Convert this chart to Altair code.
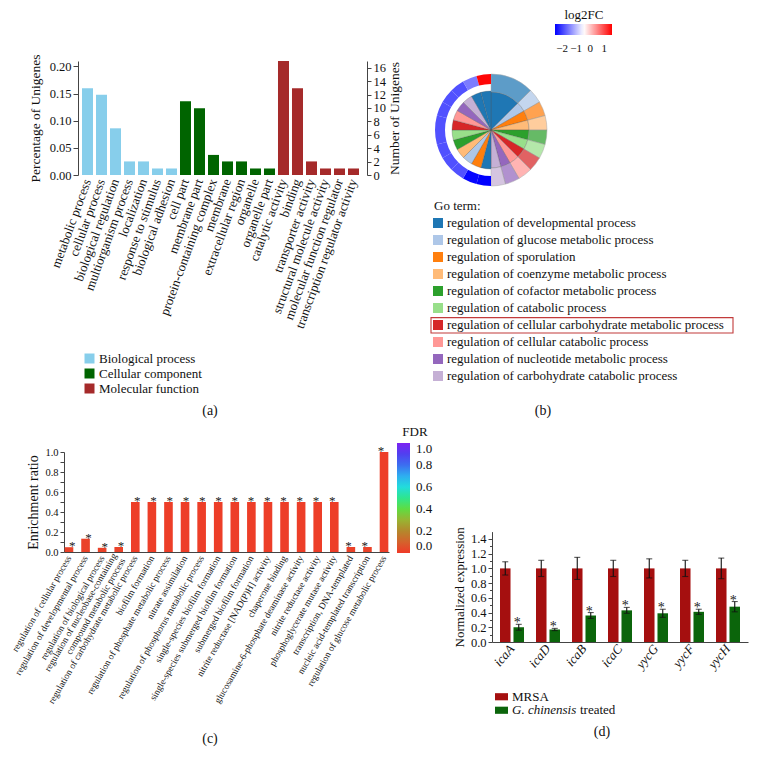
import altair as alt
import numpy as np
import pandas as pd

FONT = "Liberation Serif"
W, H = 749, 743

# ---------------- Panel (a) ----------------
a_terms = ["metabolic process", "cellular process", "biological regulation",
           "multiorganism process", "localization", "response to stimulus",
           "biological adhesion", "cell part", "membrane part",
           "protein-containing complex", "membrane", "extracellular region",
           "organelle", "organelle part", "catalytic activity", "binding",
           "transporter activity", "structural molecule activity",
           "molecular function regulator", "transcription regulator activity"]
a_groups = ["Biological process", "Cellular component", "Molecular function"]
a_group_of_term = [a_groups[0]] * 7 + [a_groups[1]] * 7 + [a_groups[2]] * 6
a_counts = [13, 12, 7, 2, 2, 1, 1, 11, 10, 3, 2, 2, 1, 1, 17, 13, 2, 1, 1, 1]
a_percent = [0.160, 0.148, 0.086, 0.025, 0.025, 0.012, 0.012, 0.136, 0.123,
             0.037, 0.025, 0.025, 0.012, 0.012, 0.210, 0.160, 0.025, 0.012,
             0.012, 0.012]
a_colors = ["#87ceeb", "#006400", "#a52a2a"]
a_left_ticks = [0, 0.05, 0.10, 0.15, 0.20]
a_right_ticks = [0, 2, 4, 6, 8, 10, 12, 14, 16]

# ---------------- Panel (b) ----------------
b_terms = ["regulation of developmental process",
           "regulation of glucose metabolic process",
           "regulation of sporulation",
           "regulation of coenzyme metabolic process",
           "regulation of cofactor metabolic process",
           "regulation of catabolic process",
           "regulation of cellular carbohydrate metabolic process",
           "regulation of cellular catabolic process",
           "regulation of nucleotide metabolic process",
           "regulation of carbohydrate catabolic process"]
b_colors = ["#1f77b4", "#aec7e8", "#ff7f0e", "#ffbb78", "#2ca02c",
            "#98df8a", "#d62728", "#ff9896", "#9467bd", "#c5b0d5"]
b_term_links = [3, 1, 1, 1, 1, 1, 1, 1, 1, 1]
b_genes = ["g1", "g2", "g3", "g4", "g5", "g6", "g7", "g8", "g9", "g10", "g11", "g12"]
b_gene_term = [b_terms[0], b_terms[2], b_terms[1], b_terms[3], b_terms[4],
               b_terms[5], b_terms[6], b_terms[7], b_terms[8], b_terms[9],
               b_terms[0], b_terms[0]]
b_gene_log2fc = [-2.5, -2.45, -1.85, -1.85, -1.85, -1.85, -1.85, -1.85, -1.85,
                 -1.85, -1.5, 1.5]
b_fc_stops = [-2.5, -0.45, 1.55]
b_fc_colors = ["#0000ff", "#ffffff", "#ff0000"]
b_fc_ticks = [-2, -1, 0, 1]
b_legend_title = "Go term:"
b_highlight = "regulation of cellular carbohydrate metabolic process"

# ---------------- Panel (c) ----------------
c_terms = ["regulation of cellular process",
           "regulation of developmental process",
           "regulation of biological process",
           "regulation of nucleobase-containing|compound metabolic process",
           "regulation of carbohydrate metabolic process",
           "biofilm formation",
           "regulation of phosphate metabolic process",
           "nitrate assimilation",
           "regulation of phosphorus metabolic process",
           "single-species biofilm formation",
           "single-species submerged biofilm formation",
           "submerged biofilm formation",
           "nitrite reductase [NAD(P)H] activity",
           "chaperone binding",
           "glucosamine-6-phosphate deaminase activity",
           "nitrite reductase activity",
           "phosphoglycerate mutase activity",
           "transcription, DNA-templated",
           "nucleic acid-templated transcription",
           "regulation of glucose metabolic process"]
c_ratio = [0.048, 0.133, 0.042, 0.05, 0.5, 0.5, 0.5, 0.5, 0.5, 0.5, 0.5,
           0.5, 0.5, 0.5, 0.5, 0.5, 0.5, 0.05, 0.05, 1.0]
c_fdr = [0.02, 0.02, 0.02, 0.02, 0.01, 0.01, 0.01, 0.01, 0.01, 0.01, 0.01,
         0.01, 0.01, 0.01, 0.01, 0.01, 0.01, 0.02, 0.02, 0.01]
c_fdr_stops = [0.0, 0.1, 0.2, 0.3, 0.4, 0.5, 0.6, 0.7, 0.8, 0.9, 1.0]
c_fdr_colors = ["#f03a28", "#d4622c", "#b4882c", "#98b432", "#5fdc42", "#2ee68e",
                "#22dcdc", "#2eaef0", "#3c6ef0", "#5040f0", "#7c22f2"]
c_fdr_ticks = [0.0, 0.2, 0.4, 0.6, 0.8, 1.0]
c_y_ticks = [0.0, 0.1, 0.2, 0.3, 0.4, 0.5, 0.6, 0.7, 0.8, 0.9, 1.0]

# ---------------- Panel (d) ----------------
d_genes = ["icaA", "icaD", "icaB", "icaC", "yycG", "yycF", "yycH"]
d_groups = ["MRSA", "G. chinensis treated"]
d_mrsa = [1.0, 1.0, 1.0, 1.0, 1.0, 1.0, 1.0]
d_mrsa_err = [0.09, 0.11, 0.15, 0.11, 0.13, 0.11, 0.14]
d_treated = [0.20, 0.17, 0.36, 0.43, 0.39, 0.41, 0.48]
d_treated_err = [0.04, 0.015, 0.04, 0.04, 0.055, 0.035, 0.07]
d_colors = ["#a50f0f", "#0b650b"]
d_ticks = [0.0, 0.2, 0.4, 0.6, 0.8, 1.0, 1.2, 1.4]
d_minor_ticks = [0.1, 0.3, 0.5, 0.7, 0.9, 1.1, 1.3]
d_legend_italic = ["", "G. chinensis"]
d_legend_plain = ["MRSA", "treated"]

captions = ["(a)", "(b)", "(c)", "(d)"]

# ================= data frames =================
dfA = pd.DataFrame({"term": a_terms, "group": a_group_of_term,
                    "count": a_counts, "pct": a_percent})

unit = 180.0 / sum(b_term_links)
t_end = np.cumsum(b_term_links) * unit
dfBt = pd.DataFrame({"term": b_terms, "start": t_end - np.array(b_term_links) * unit,
                     "end": t_end})
g_start = 180.0 + unit * np.arange(len(b_genes))
dfBg = pd.DataFrame({"gene": b_genes, "term": b_gene_term, "log2fc": b_gene_log2fc,
                     "start": g_start, "end": g_start + unit})
b_rows = [b_legend_title] + b_terms
dfBl = pd.DataFrame({"term": b_terms})
dfBtitle = pd.DataFrame({"term": [b_legend_title]})
dfBhi = pd.DataFrame({"term": [b_highlight]})

dfC = pd.DataFrame({"term": c_terms, "ratio": c_ratio, "fdr": c_fdr})

dfD = pd.DataFrame({"gene": d_genes * 2,
                    "group": [d_groups[0]] * len(d_genes) + [d_groups[1]] * len(d_genes),
                    "value": d_mrsa + d_treated,
                    "err": d_mrsa_err + d_treated_err})
dfDl = pd.DataFrame({"group": d_groups, "italic": d_legend_italic, "plain": d_legend_plain})

# ================= panel (a) =================
xA_scale = alt.Scale(domain=a_terms, range=[70, 355], paddingInner=0.214, paddingOuter=0.286)
a_bars = alt.Chart(dfA).mark_bar().encode(
    x=alt.X("term:N", scale=xA_scale,
            axis=alt.Axis(orient="bottom", offset=-576, labelAngle=-70, labelAlign="right",
                          labelBaseline="middle", labelFontSize=13, labelPadding=4,
                          ticks=False, domain=False, title=None, labelLimit=300)),
    y=alt.Y("pct:Q", scale=alt.Scale(domain=[0, 0.21], range=[167, 53], nice=False),
            axis=alt.Axis(orient="left", offset=-70, values=a_left_ticks, format=".2f",
                          title="Percentage of Unigenes", titleFontSize=13.5,
                          labelFontSize=12.5, titlePadding=7, tickSize=5)),
    color=alt.Color("group:N", scale=alt.Scale(domain=a_groups, range=a_colors),
                    legend=alt.Legend(orient="none", legendX=75, legendY=344, title=None,
                                      symbolType="square", symbolSize=100, labelFontSize=13,
                                      rowPadding=1, padding=0, labelOffset=3)),
)
a_right = alt.Chart(dfA).mark_bar(opacity=0).encode(
    x=alt.X("term:N", scale=xA_scale, axis=None),
    y=alt.Y("count:Q", scale=alt.Scale(domain=[0, 17], range=[167, 53], nice=False),
            axis=alt.Axis(orient="right", offset=-390, values=a_right_ticks,
                          title="Number of Unigenes", titleAngle=270, titleFontSize=13.5,
                          labelFontSize=12.5, titlePadding=16, tickSize=4)),
)

# ================= panel (b) =================
theta_scale = alt.Scale(domain=[0, 360], nice=False)
term_color = alt.Scale(domain=b_terms, range=b_colors)
cx, cy = alt.value(483), alt.value(122)

b_in_right = alt.Chart(dfBt).mark_arc(radius=38, stroke="#555", strokeWidth=0.3).encode(
    theta=alt.Theta("start:Q", scale=theta_scale, stack=False), theta2="end:Q",
    color=alt.Color("term:N", scale=term_color, legend=None), x=cx, y=cy)
b_in_left = alt.Chart(dfBg).mark_arc(radius=39, stroke="#555", strokeWidth=0.3).encode(
    theta=alt.Theta("start:Q", scale=theta_scale, stack=False), theta2="end:Q",
    color=alt.Color("term:N", scale=term_color, legend=None), x=cx, y=cy)
b_out_right = alt.Chart(dfBt).mark_arc(radius=56, radius2=38, opacity=0.72,
                                       stroke="#888", strokeWidth=0.5).encode(
    theta=alt.Theta("start:Q", scale=theta_scale, stack=False), theta2="end:Q",
    color=alt.Color("term:N", scale=term_color, legend=None), x=cx, y=cy)
b_ring = alt.Chart(dfBg).mark_arc(radius=56, radius2=46).encode(
    theta=alt.Theta("start:Q", scale=theta_scale, stack=False), theta2="end:Q",
    color=alt.Color("log2fc:Q",
                    scale=alt.Scale(domain=b_fc_stops, range=b_fc_colors, interpolate="rgb"),
                    legend=alt.Legend(orient="none", direction="horizontal", legendX=547,
                                      legendY=1, title="log2FC", titleAnchor="middle",
                                      gradientLength=57, gradientThickness=11,
                                      values=b_fc_ticks, labelFontSize=11, titleFontSize=13,
                                      titlePadding=2, padding=0, labelOffset=8)),
    x=cx, y=cy)

yB = alt.Y("term:N", scale=alt.Scale(domain=b_rows, range=[189.5, 376.5],
                                     paddingInner=0.1, paddingOuter=0), axis=None)
b_hi = alt.Chart(dfBhi).mark_rect(fillOpacity=0, stroke="#c23b3b", strokeWidth=1.1).encode(
    y=yB, x=alt.value(423), x2=alt.value(725))
b_sq = alt.Chart(dfBl).mark_square(size=100, opacity=1).encode(
    y=yB, x=alt.value(430), color=alt.Color("term:N", scale=term_color, legend=None))
b_txt = alt.Chart(dfBl).mark_text(align="left", baseline="middle", fontSize=13,
                                  color="#111").encode(
    y=yB, x=alt.value(439), text="term:N")
b_ttl = alt.Chart(dfBtitle).mark_text(align="left", baseline="middle", fontSize=13,
                                      color="#111").encode(
    y=yB, x=alt.value(426), text="term:N")

# ================= panel (c) =================
xC_scale = alt.Scale(domain=c_terms, range=[56, 381], paddingInner=0.48, paddingOuter=0.04)
yC_scale = alt.Scale(domain=[0, 1], range=[544, 444], nice=False)
c_bars = alt.Chart(dfC).mark_bar().encode(
    x=alt.X("term:N", scale=xC_scale,
            axis=alt.Axis(orient="bottom", offset=-199, labelAngle=-60, labelAlign="right",
                          labelBaseline={"condition": {"test": "indexof(datum.value, '|') >= 0",
                                                       "value": "line-bottom"},
                                         "value": "middle"},
                          labelFontSize=9.4, labelPadding=4, labelLineHeight=10,
                          labelExpr="split(datum.label, '|')", ticks=False, title=None,
                          labelLimit=300)),
    y=alt.Y("ratio:Q", scale=yC_scale,
            axis=alt.Axis(orient="left", offset=-56, values=c_y_ticks, format=".1f",
                          title="Enrichment ratio", titleFontSize=14, labelFontSize=10.5,
                          titlePadding=4, tickSize=4)),
    color=alt.Color("fdr:Q",
                    scale=alt.Scale(domain=c_fdr_stops, range=c_fdr_colors, interpolate="rgb"),
                    legend=alt.Legend(orient="none", direction="vertical", legendX=389,
                                      legendY=418, title="FDR", titleAnchor="middle",
                                      gradientLength=110, gradientThickness=13,
                                      values=c_fdr_ticks, format=".1f", labelFontSize=13,
                                      titleFontSize=13, titlePadding=4, padding=0,
                                      labelBaseline="middle", labelOffset=6)),
)
c_star = alt.Chart(dfC).mark_text(text="*", fontSize=13, baseline="alphabetic", dy=3,
                                  color="#222").encode(
    x=alt.X("term:N", scale=xC_scale, axis=None),
    y=alt.Y("ratio:Q", scale=yC_scale, axis=None))

# ================= panel (d) =================
xD_scale = alt.Scale(domain=d_genes, range=[484, 740], paddingInner=0.333, paddingOuter=0.222)
xoD_scale = alt.Scale(domain=d_groups, paddingInner=0.22, paddingOuter=0)
yD_scale = alt.Scale(domain=[0, 1.5], range=[634, 523.6], nice=False)
xD_plain = alt.X("gene:N", scale=xD_scale, axis=None)
xoD = alt.XOffset("group:N", scale=xoD_scale)
baseD = alt.Chart(dfD).transform_calculate(lo="datum.value - datum.err",
                                           hi="datum.value + datum.err")
d_bars = baseD.mark_bar().encode(
    x=alt.X("gene:N", scale=xD_scale,
            axis=alt.Axis(orient="bottom", offset=-109, labelAngle=-50, labelAlign="right",
                          labelBaseline="middle", labelFontStyle="italic", labelFontSize=13,
                          labelPadding=4, ticks=False, title=None)),
    xOffset=xoD,
    y=alt.Y("value:Q", scale=yD_scale,
            axis=alt.Axis(orient="left", offset=-484, values=d_ticks, format=".1f",
                          title="Normalized expression", titleFontSize=13,
                          labelFontSize=12.5, titlePadding=4, tickSize=4)),
    color=alt.Color("group:N", scale=alt.Scale(domain=d_groups, range=d_colors), legend=None),
)
d_minor = baseD.mark_bar(opacity=0).encode(
    x=xD_plain, xOffset=xoD,
    y=alt.Y("value:Q", scale=yD_scale,
            axis=alt.Axis(orient="left", offset=-484, values=d_minor_ticks, labels=False,
                          domain=False, tickSize=2.5, title=None)))
d_rule = baseD.mark_rule(color="#111", strokeWidth=1.1).encode(
    x=xD_plain, xOffset=xoD, y=alt.Y("lo:Q", scale=yD_scale, axis=None), y2="hi:Q")
d_cap_hi = baseD.mark_tick(color="#111", thickness=1.1, size=6).encode(
    x=xD_plain, xOffset=xoD, y=alt.Y("hi:Q", scale=yD_scale, axis=None))
d_cap_lo = baseD.mark_tick(color="#111", thickness=1.1, size=6).encode(
    x=xD_plain, xOffset=xoD, y=alt.Y("lo:Q", scale=yD_scale, axis=None))
d_star = baseD.transform_filter(alt.datum.group == d_groups[1]).mark_text(
    text="*", fontSize=14, baseline="alphabetic", dy=3, dx=-6.7, color="#222").encode(
    x=xD_plain, xOffset=xoD, y=alt.Y("hi:Q", scale=yD_scale, axis=None))

yDl = alt.Y("group:N", scale=alt.Scale(domain=d_groups, range=[682, 709],
                                       paddingInner=0, paddingOuter=0), axis=None)
d_leg_sym = alt.Chart(dfDl).mark_point(shape="M-1,-0.55H1V0.55H-1Z", filled=True,
                                       size=169, opacity=1).encode(
    y=yDl, x=alt.value(493.5),
    color=alt.Color("group:N", scale=alt.Scale(domain=d_groups, range=d_colors), legend=None))
d_leg_it = alt.Chart(dfDl).transform_filter(alt.datum.group == d_groups[1]).mark_text(
    align="left", baseline="middle", fontSize=13, fontStyle="italic", color="#111").encode(
    y=yDl, x=alt.value(504), text="italic:N")
d_leg_p1 = alt.Chart(dfDl).transform_filter(alt.datum.group == d_groups[0]).mark_text(
    align="left", baseline="middle", fontSize=13, color="#111").encode(
    y=yDl, x=alt.value(504), text="plain:N")
d_leg_p2 = alt.Chart(dfDl).transform_filter(alt.datum.group == d_groups[1]).mark_text(
    align="left", baseline="middle", fontSize=13, dx=68, color="#111").encode(
    y=yDl, x=alt.value(504), text="plain:N")

# ================= captions =================
cap_df = pd.DataFrame({"cap": captions})
def caption(i, px, py):
    return alt.Chart(cap_df).transform_filter(alt.datum.cap == captions[i]).mark_text(
        fontSize=14, baseline="middle", color="#111").encode(
        text="cap:N", x=alt.value(px), y=alt.value(py))

layers = [a_bars, a_right,
          b_in_right, b_in_left, b_out_right, b_ring, b_hi, b_sq, b_txt, b_ttl,
          c_bars, c_star,
          d_bars, d_minor, d_rule, d_cap_hi, d_cap_lo, d_star,
          d_leg_sym, d_leg_it, d_leg_p1, d_leg_p2,
          caption(0, 202, 403), caption(1, 535, 403), caption(2, 202, 731), caption(3, 594, 724)]

chart = alt.layer(*layers).resolve_scale(
    x="independent", y="independent", color="independent", theta="independent",
    xOffset="independent"
).properties(
    width=W, height=H, autosize=alt.AutoSizeParams(type="none"), padding=0
).configure(font=FONT).configure_view(strokeWidth=0).configure_axis(
    grid=False, labelColor="#111", titleColor="#111", domainColor="#444",
    tickColor="#444", titleFontWeight="normal", labelFont=FONT, titleFont=FONT
).configure_legend(labelColor="#111", titleColor="#111", titleFontWeight="normal",
                   labelFont=FONT, titleFont=FONT
).configure_text(font=FONT)

chart.save("out.html", embed_options={"renderer": "svg", "actions": False})
